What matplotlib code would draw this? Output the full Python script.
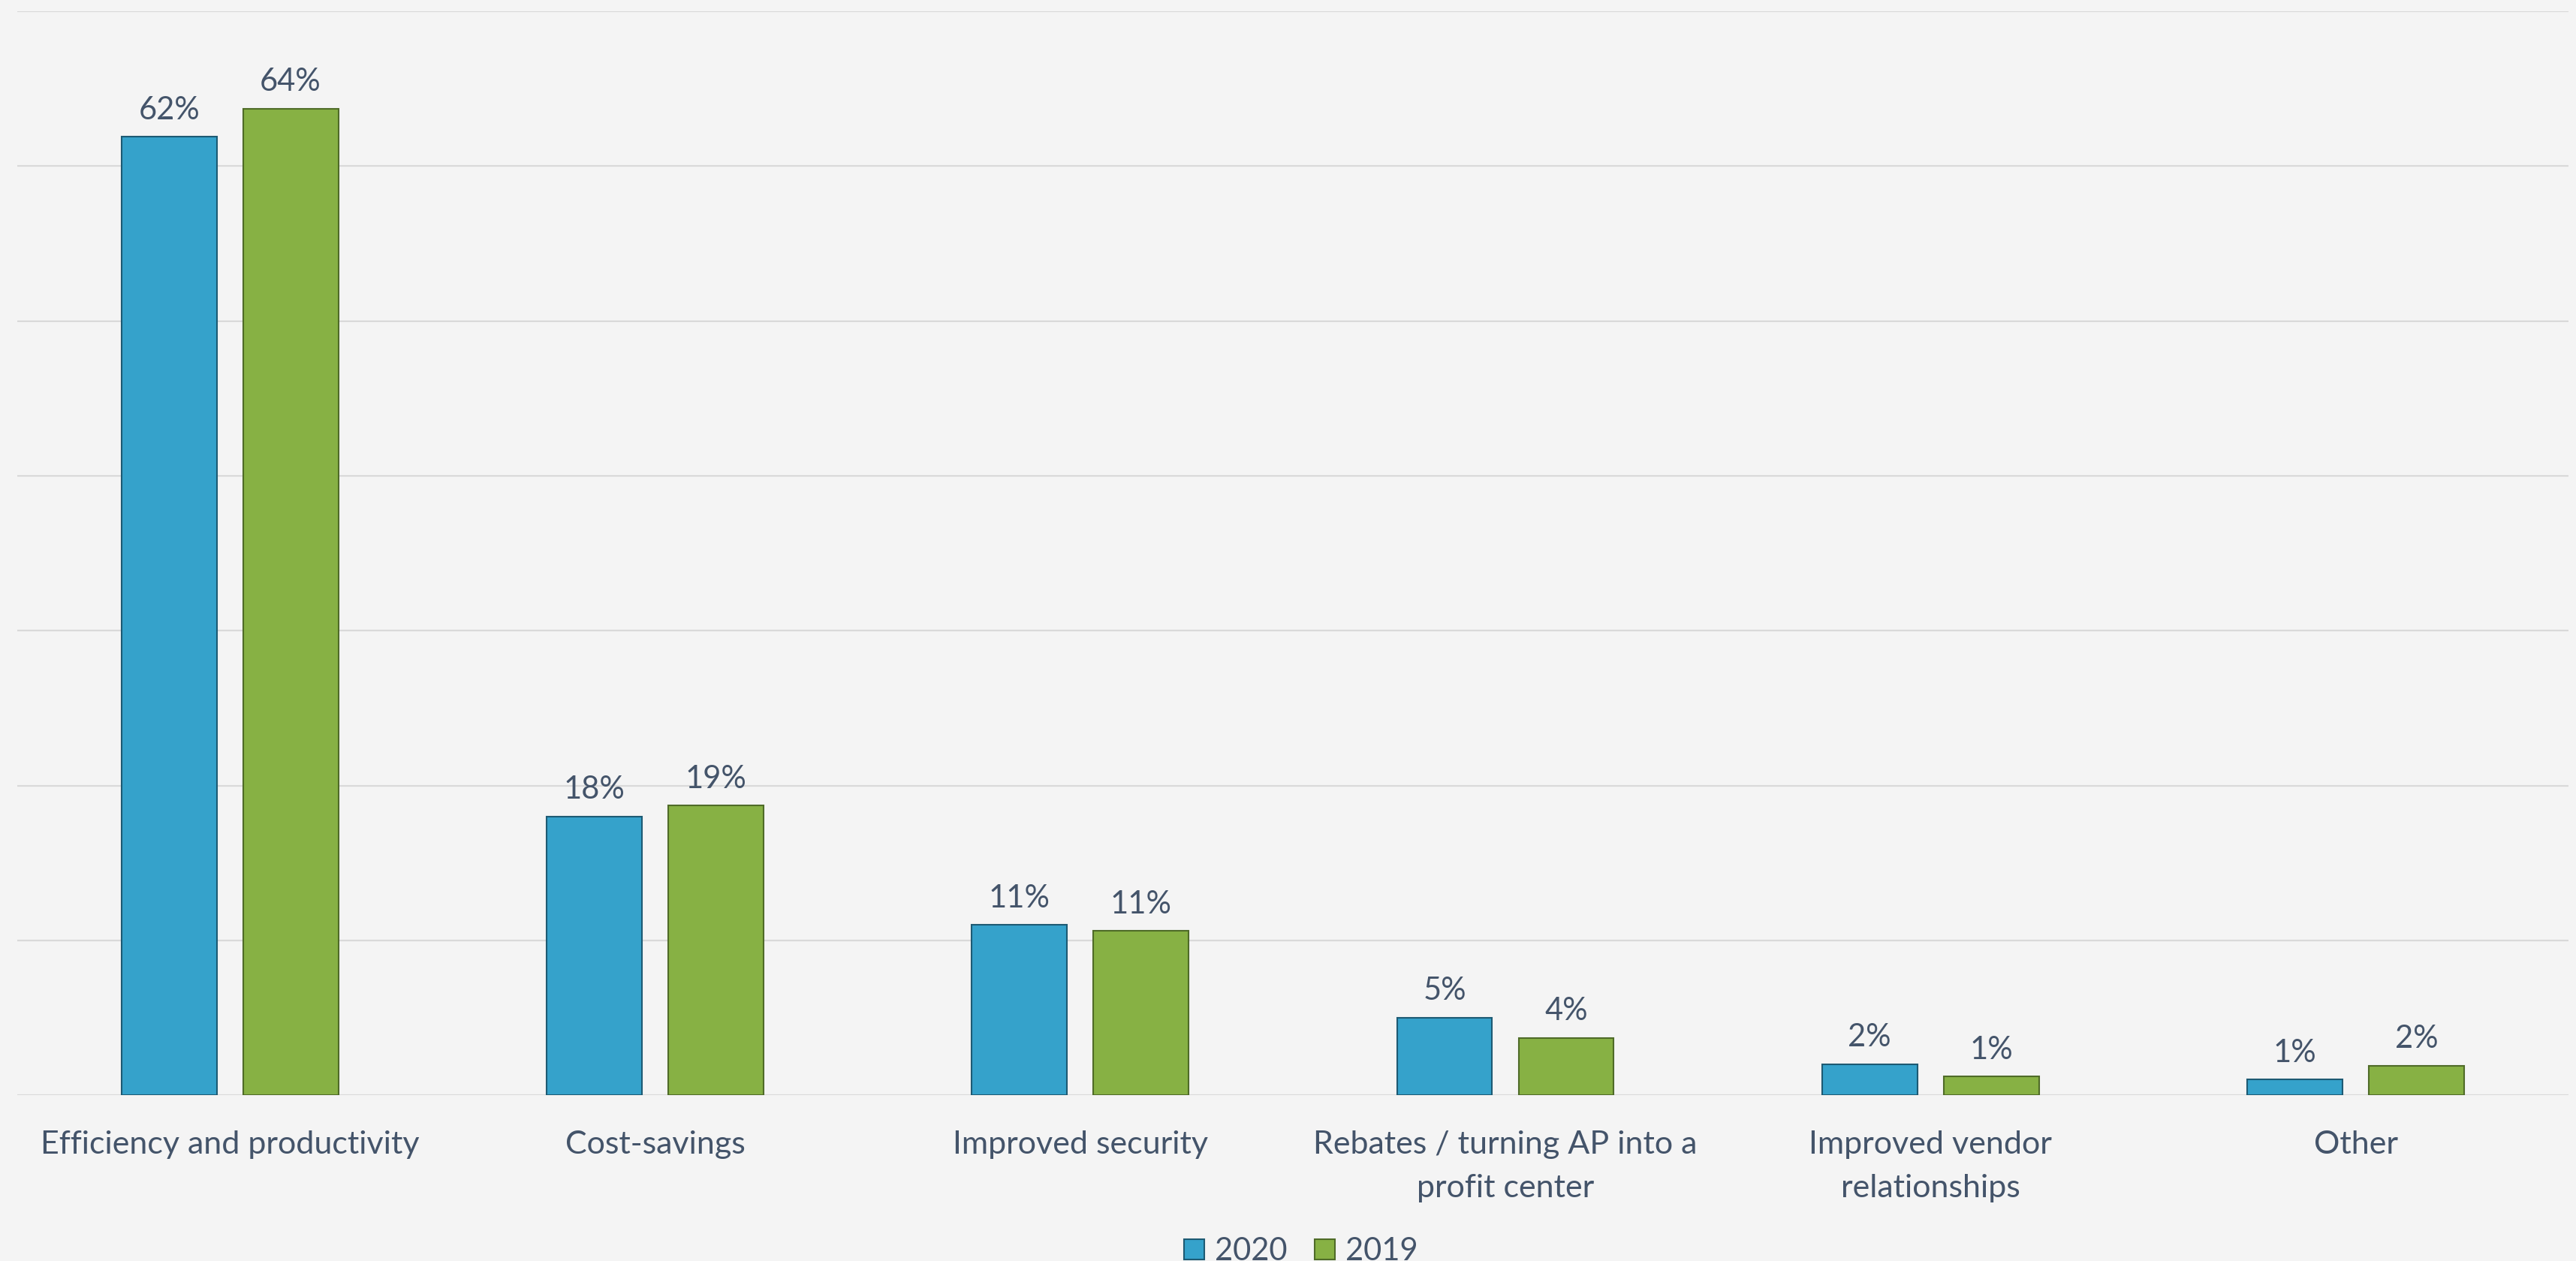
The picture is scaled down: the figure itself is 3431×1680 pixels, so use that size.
import numpy as np
import matplotlib.pyplot as plt

# Benefits of AP automation, share of respondents (%)
categorias = [
    "Efficiency and productivity",
    "Cost-savings",
    "Improved security",
    "Rebates / turning AP into a\nprofit center",
    "Improved vendor\nrelationships",
    "Other",
]
valores_2020 = [61.9, 18.0, 11.0, 5.0, 2.0, 1.0]
valores_2019 = [63.7, 18.7, 10.6, 3.7, 1.2, 1.9]
series = ["2020", "2019"]

cor_fundo = "#f4f4f4"
cor_texto = "#44546a"
cor_grade = "#d9d9d9"

plt.rcParams['font.family'] = ['Lato', 'DejaVu Sans']

fig = plt.figure(figsize=(34.31, 16.8), dpi=100, facecolor=cor_fundo)
ax = fig.add_axes([0.0067, 0.1315, 0.9903, 0.8595])
ax.set_facecolor(cor_fundo)

x = np.arange(len(categorias))
largura = 0.224
deslocamento = 0.143

barras_2020 = ax.bar(x - deslocamento, valores_2020, largura, color="#35a2cb",
                     edgecolor="#1d5a73", linewidth=1.5, label=series[0])
barras_2019 = ax.bar(x + deslocamento, valores_2019, largura, color="#87b144",
                     edgecolor="#4f6b28", linewidth=1.5, label=series[1])

# Rótulos de valor acima de cada barra
for barras, valores in [(barras_2020, valores_2020), (barras_2019, valores_2019)]:
    for barra, v in zip(barras, valores):
        ax.annotate(f"{v:.0f}%", (barra.get_x() + barra.get_width() / 2, v),
                    xytext=(0, 17), textcoords="offset points",
                    ha="center", va="baseline", fontsize=30, color=cor_texto)

ax.set_xlim(-0.5, len(categorias) - 0.5)
ax.set_ylim(0, 70)
ax.set_yticks(np.arange(0, 71, 10))
ax.set_yticklabels([])
ax.set_xticks(x)
ax.set_xticklabels(categorias, fontsize=31, color=cor_texto, linespacing=1.62)
ax.tick_params(axis="both", length=0)
ax.tick_params(axis="x", pad=34)

ax.grid(axis="y", color=cor_grade, linewidth=1.6)
ax.set_axisbelow(True)
for lado in ax.spines.values():
    lado.set_visible(False)

fig.legend(handles=[barras_2020, barras_2019], labels=series, loc="lower center",
           bbox_to_anchor=(0.505, -0.016), ncol=2, frameon=False, fontsize=30,
           labelcolor=cor_texto, handlelength=0.65, handleheight=0.65,
           handletextpad=0.34, columnspacing=0.86, borderpad=0)

fig.savefig("out.png", dpi=100, facecolor=cor_fundo)
